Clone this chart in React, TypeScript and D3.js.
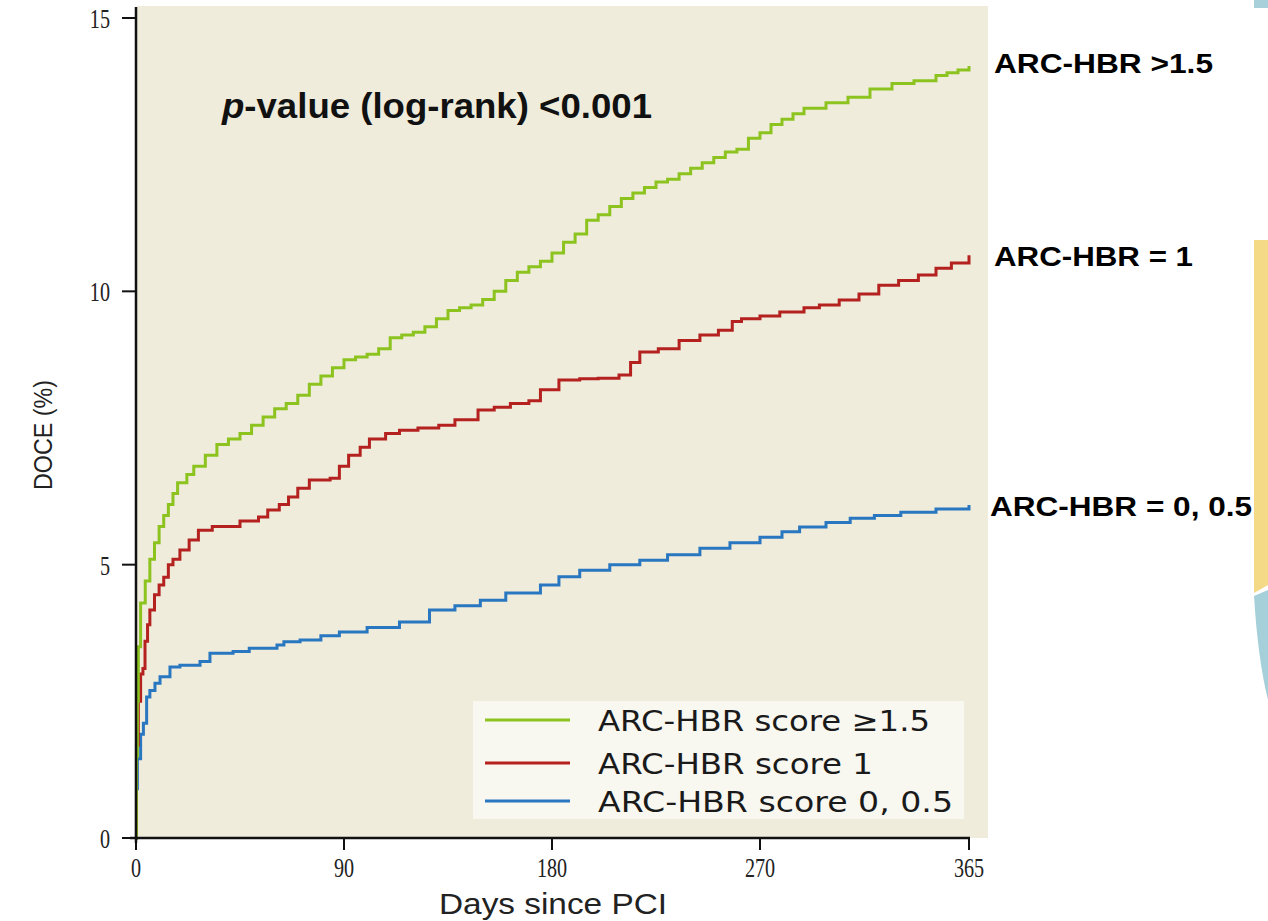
import React from "react";
import * as d3 from "d3";

type Pt = [number, number];

const xTicks = [0, 90, 180, 270, 365];
const yTicks = [0, 5, 10, 15];

const greenSeries: Pt[] = [
  [0, 0], [0.2, 1.5], [0.6, 2.5], [1, 3.5], [2, 4.3], [4, 4.7], [6, 5.1], [8, 5.4], [10, 5.7],
  [12, 5.9], [14, 6.1], [16, 6.3], [18, 6.5], [22, 6.65], [25, 6.8], [30, 7.0], [35, 7.2], [40, 7.3],
  [45, 7.4], [50, 7.55], [55, 7.7], [60, 7.85], [65, 7.95], [70, 8.1], [75, 8.3], [80, 8.45],
  [85, 8.6], [90, 8.75], [95, 8.8], [100, 8.85], [105, 8.95], [110, 9.15], [115, 9.2], [120, 9.25],
  [125, 9.35], [130, 9.5], [135, 9.65], [140, 9.7], [145, 9.75], [150, 9.85], [155, 10.0],
  [160, 10.2], [165, 10.35], [170, 10.45], [175, 10.55], [180, 10.7], [185, 10.9], [190, 11.05],
  [195, 11.3], [200, 11.4], [205, 11.55], [210, 11.7], [215, 11.8], [220, 11.9], [225, 12.0],
  [230, 12.05], [235, 12.15], [240, 12.25], [245, 12.35], [250, 12.45], [255, 12.55], [260, 12.6],
  [265, 12.8], [270, 12.9], [275, 13.05], [280, 13.15], [285, 13.25], [290, 13.35], [300, 13.45],
  [310, 13.55], [320, 13.7], [330, 13.8], [340, 13.85], [350, 13.95], [355, 14.0], [360, 14.05], [365, 14.12],
];

const redSeries: Pt[] = [
  [0, 0], [0.2, 1.7], [1, 2.5], [2, 3.0], [3, 3.1], [3.9, 3.6], [5, 3.9], [6, 4.17], [8, 4.45],
  [10, 4.63], [12, 4.77], [14, 5.0], [16, 5.1], [19, 5.27], [23, 5.45], [27, 5.63], [33, 5.7],
  [40, 5.7], [45, 5.8], [53, 5.87], [57, 6.0], [62, 6.1], [66, 6.24], [70, 6.4], [75, 6.55],
  [84, 6.58], [88, 6.8], [92, 7.0], [97, 7.15], [101, 7.3], [108, 7.4], [114, 7.46], [122, 7.5],
  [131, 7.55], [138, 7.65], [148, 7.83], [155, 7.88], [162, 7.95], [170, 8.0], [175, 8.2],
  [183, 8.38], [192, 8.4], [200, 8.41], [209, 8.47], [214, 8.7], [218, 8.89], [226, 8.95],
  [235, 9.1], [244, 9.2], [252, 9.29], [258, 9.45], [262, 9.5], [270, 9.55], [279, 9.62],
  [290, 9.7], [297, 9.75], [306, 9.84], [315, 9.95], [324, 10.11], [333, 10.2], [342, 10.3],
  [350, 10.42], [357, 10.52], [365, 10.66],
];

const blueSeries: Pt[] = [
  [0, 0], [0.2, 0.9], [0.6, 1.45], [2, 1.9], [3.2, 2.1], [4.6, 2.58], [6, 2.7], [8.2, 2.83],
  [10.4, 2.95], [14.7, 3.13], [19, 3.16], [27.7, 3.23], [32, 3.38], [42, 3.41], [49, 3.47],
  [61, 3.53], [64, 3.59], [71, 3.62], [80, 3.7], [88, 3.77], [100, 3.85], [114, 3.95],
  [127, 4.17], [138, 4.25], [149, 4.35], [160, 4.48], [175, 4.63], [183, 4.78], [192, 4.9],
  [205, 5.0], [218, 5.08], [230, 5.18], [244, 5.3], [257, 5.4], [270, 5.5], [280, 5.6],
  [288, 5.69], [300, 5.77], [311, 5.85], [322, 5.9], [334, 5.96], [350, 6.02], [365, 6.09],
];

const seriesNames = ["ARC-HBR score \u22651.5", "ARC-HBR score 1", "ARC-HBR score 0, 0.5"];
const seriesColors = ["#8cc31e", "#b4211f", "#2977c0"];
const rightLabels = ["ARC-HBR >1.5", "ARC-HBR = 1", "ARC-HBR = 0, 0.5"];

export default function App() {
  const W = 1268;
  const H = 921;
  // ticks are evenly spaced in the original: 365 sits at the 5th equal step
  const x = d3.scaleLinear().domain([0, 270, 365]).range([136, 760, 969]);
  const y = d3.scaleLinear().domain([0, 15]).range([838, 18]);
  const line = d3
    .line<Pt>()
    .x((d) => x(d[0]))
    .y((d) => y(d[1]))
    .curve(d3.curveStepAfter);
  const all = [greenSeries, redSeries, blueSeries];
  const drawOrder = [2, 1, 0];
  const legendY = [720, 763, 801];
  const legendLen = [332, 275, 355];
  const rlX = [994, 994, 990];
  const rlY = [73, 266, 516];
  const rlLen = [219, 199, 262];
  const tickSx = 0.72;

  return (
    <svg
      width={W}
      height={H}
      style={{ position: "absolute", left: 0, top: 0, background: "#fff" }}
    >
      {/* slide decorations at right edge */}
      <rect x={1254} y={0} width={14} height={8} fill="#a7d0da" />
      <path d="M1254,240 L1268,240 L1268,585 L1254,593 Z" fill="#f4d987" />
      <path d="M1254,596 L1268,590 L1268,700 Q1258,660 1254,596 Z" fill="#a5d0d9" />

      {/* panel */}
      <rect x={137} y={6} width={851} height={832} fill="#efecdc" />

      {/* p-value */}
      <text
        x={222}
        y={118}
        fontFamily="'Liberation Sans', Arial, sans-serif"
        fontWeight="bold"
        fontSize={35}
        fill="#111"
        textLength={430}
        lengthAdjust="spacingAndGlyphs"
      >
        <tspan fontStyle="italic">p</tspan>-value (log-rank) {"<"}0.001
      </text>

      {/* lines */}
      {drawOrder.map((i) => (
        <path
          key={i}
          d={line(all[i]) || ""}
          fill="none"
          stroke={seriesColors[i]}
          strokeWidth={3}
        />
      ))}

      {/* legend */}
      <rect x={473} y={701} width={491} height={118} fill="#f8f7f0" />
      {seriesNames.map((n, i) => (
        <g key={n}>
          <line x1={485} x2={570} y1={legendY[i]} y2={legendY[i]} stroke={seriesColors[i]} strokeWidth={3} />
          <text
            x={598}
            y={legendY[i] + 11}
            fontFamily="'DejaVu Sans', sans-serif"
            fontSize={29}
            fill="#1a1a1a"
            textLength={legendLen[i]}
            lengthAdjust="spacingAndGlyphs"
          >
            {n}
          </text>
        </g>
      ))}

      {/* axes */}
      <line x1={136} x2={136} y1={7} y2={843} stroke="#111" strokeWidth={2.5} />
      <line x1={130} x2={970} y1={838} y2={838} stroke="#111" strokeWidth={2.5} />
      {yTicks.map((t) => (
        <g key={"y" + t}>
          <line x1={122} x2={136} y1={y(t)} y2={y(t)} stroke="#111" strokeWidth={2} />
          <text
            x={110 / tickSx}
            y={y(t) + 10}
            textAnchor="end"
            fontFamily="'Liberation Serif', serif"
            fontSize={28}
            fill="#222"
            transform={`scale(${tickSx},1)`}
          >
            {t}
          </text>
        </g>
      ))}
      {xTicks.map((t) => {
        const px = x(t);
        return (
          <g key={"x" + t}>
            <line x1={px} x2={px} y1={838} y2={850} stroke="#111" strokeWidth={2} />
            <text
              x={px / tickSx}
              y={877}
              textAnchor="middle"
              fontFamily="'Liberation Serif', serif"
              fontSize={28}
              fill="#222"
              transform={`scale(${tickSx},1)`}
            >
              {t}
            </text>
          </g>
        );
      })}

      {/* axis titles */}
      <text
        x={553}
        y={914}
        textAnchor="middle"
        fontFamily="'Liberation Sans', Arial, sans-serif"
        fontSize={29}
        fill="#222"
        textLength={228}
        lengthAdjust="spacingAndGlyphs"
      >
        Days since PCI
      </text>
      <text
        transform={`translate(52,435) rotate(-90)`}
        textAnchor="middle"
        fontFamily="'Liberation Sans', Arial, sans-serif"
        fontSize={26}
        fill="#222"
        textLength={110}
        lengthAdjust="spacingAndGlyphs"
      >
        DOCE (%)
      </text>

      {/* right labels */}
      {rightLabels.map((l, i) => (
        <text
          key={l}
          x={rlX[i]}
          y={rlY[i]}
          fontFamily="'Liberation Sans', Arial, sans-serif"
          fontWeight="bold"
          fontSize={27}
          fill="#000"
          textLength={rlLen[i]}
          lengthAdjust="spacingAndGlyphs"
        >
          {l}
        </text>
      ))}
    </svg>
  );
}
